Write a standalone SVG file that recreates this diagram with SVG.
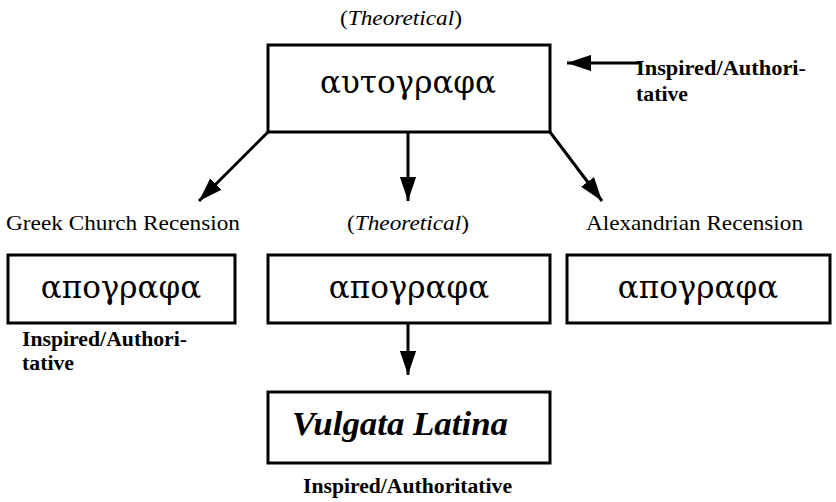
<svg xmlns="http://www.w3.org/2000/svg" width="836" height="502" viewBox="0 0 836 502">
<style>
.box{fill:#fff;stroke:#000;stroke-width:3}
.gk{font-family:"DejaVu Serif","Liberation Serif",serif;font-size:31px;fill:#000}
.lbl{font-family:"Liberation Serif","DejaVu Serif",serif;font-size:21px;fill:#000}
.it{font-style:italic}
.insp{font-family:"Liberation Serif","DejaVu Serif",serif;font-size:20px;font-weight:bold;fill:#000}
.vul{font-family:"Liberation Serif","DejaVu Serif",serif;font-size:34px;font-weight:bold;font-style:italic;fill:#000}
.con{stroke:#000;stroke-width:3;fill:none}
</style>
<defs>
<marker id="ah" viewBox="0 0 10 10" refX="10" refY="5" markerWidth="8" markerHeight="5.4" markerUnits="strokeWidth" orient="auto" preserveAspectRatio="none">
<path d="M0,0 L10,5 L0,10 z" fill="#000"/>
</marker>
</defs>
<text class="lbl" x="401" y="25" text-anchor="middle" textLength="122" lengthAdjust="spacingAndGlyphs">(<tspan class="it">Theoretical</tspan>)</text>
<g id="autographa">
<rect class="box" x="268" y="45" width="282" height="87"/>
<text class="gk" x="408" y="93" text-anchor="middle">αυτογραφα</text>
</g>
<g id="inspired-top">
<text class="insp" x="636" y="75" textLength="170" lengthAdjust="spacingAndGlyphs">Inspired/Authori-</text>
<text class="insp" x="636" y="101" textLength="52" lengthAdjust="spacingAndGlyphs">tative</text>
</g>
<g id="greek">
<text class="lbl" x="6" y="230" textLength="234" lengthAdjust="spacingAndGlyphs">Greek Church Recension</text>
<rect class="box" x="8" y="255" width="227" height="68"/>
<text class="gk" x="121" y="298" text-anchor="middle">απογραφα</text>
<text class="insp" x="22" y="346" textLength="165" lengthAdjust="spacingAndGlyphs">Inspired/Authori-</text>
<text class="insp" x="22" y="370" textLength="52" lengthAdjust="spacingAndGlyphs">tative</text>
</g>
<g id="theoretical">
<text class="lbl" x="408" y="230" text-anchor="middle" textLength="122" lengthAdjust="spacingAndGlyphs">(<tspan class="it">Theoretical</tspan>)</text>
<rect class="box" x="268" y="255" width="282" height="68"/>
<text class="gk" x="409" y="298" text-anchor="middle">απογραφα</text>
</g>
<g id="alexandrian">
<text class="lbl" x="586" y="230" textLength="217" lengthAdjust="spacingAndGlyphs">Alexandrian Recension</text>
<rect class="box" x="567" y="255" width="263" height="68"/>
<text class="gk" x="698" y="298" text-anchor="middle">απογραφα</text>
</g>
<g id="vulgata">
<rect class="box" x="268" y="392" width="282" height="71"/>
<text class="vul" x="292" y="435" textLength="216" lengthAdjust="spacingAndGlyphs">Vulgata Latina</text>
<text class="insp" x="303" y="493" textLength="209" lengthAdjust="spacingAndGlyphs">Inspired/Authoritative</text>
</g>
<g id="connectors">
<line class="con" x1="268" y1="132" x2="199" y2="201" marker-end="url(#ah)"/>
<line class="con" x1="408" y1="132" x2="408" y2="201" marker-end="url(#ah)"/>
<line class="con" x1="550" y1="132" x2="602" y2="201" marker-end="url(#ah)"/>
<line class="con" x1="408" y1="323" x2="408" y2="375" marker-end="url(#ah)"/>
<line class="con" x1="640" y1="63" x2="567" y2="63" marker-end="url(#ah)"/>
</g>
</svg>
